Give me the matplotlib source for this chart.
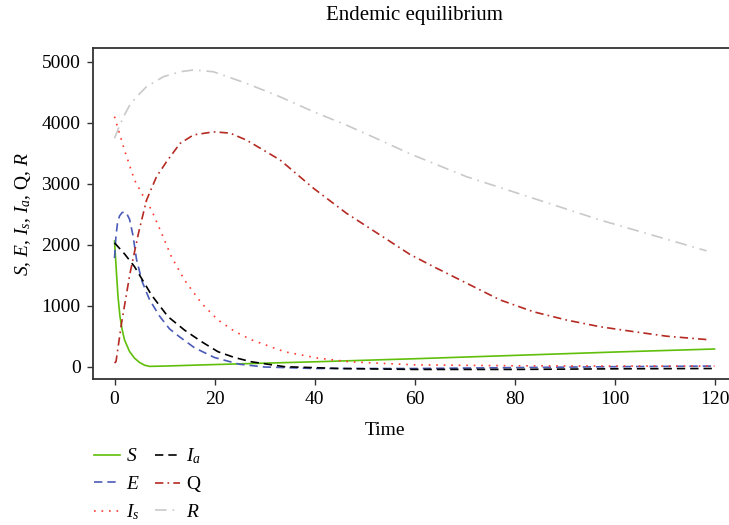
import matplotlib
matplotlib.use("Agg")
import matplotlib.pyplot as plt

plt.rcParams['font.family'] = ['Liberation Serif', 'DejaVu Serif']
plt.rcParams['mathtext.fontset'] = 'custom'
plt.rcParams['mathtext.rm'] = 'Liberation Serif'
plt.rcParams['mathtext.it'] = 'Liberation Serif:italic'

# values
t_S = [0, 0.2, 0.4, 0.7, 1.1, 1.5, 2, 3, 4, 5, 6, 7, 10, 20, 40, 60, 80, 100, 120]
S = [2060, 1800, 1530, 1150, 820, 620, 440, 250, 140, 70, 25, 5, 10, 35, 80, 130, 185, 240, 290]

t_E = [0, 0.3, 0.6, 1, 1.5, 2, 2.5, 3, 3.7, 4.4, 5.5, 7, 9, 11, 13, 16, 20, 25, 30, 40, 60, 80, 100, 120]
E = [1780, 2150, 2350, 2470, 2525, 2540, 2500, 2420, 2150, 1760, 1400, 1100, 830, 620, 490, 310, 150, 40, -5, -30, -30, -15, 0, 10]

t_Is = [0, 2, 4, 6, 7.4, 9.4, 11.4, 14, 17.4, 20.7, 24, 27.4, 34, 40.7, 47, 60, 80, 100, 120]
Is = [4100, 3550, 3060, 2760, 2570, 2190, 1800, 1420, 1040, 765, 580, 440, 245, 140, 80, 30, 15, 10, 10]

t_Ia = [0, 2, 4, 7.4, 10.7, 14, 17.4, 20.7, 24, 27.4, 34, 45, 60, 80, 100, 120]
Ia = [2030, 1850, 1640, 1175, 820, 600, 410, 245, 150, 80, 0, -30, -45, -45, -35, -30]

t_Q = [0, 0.3, 1.4, 3.1, 4.8, 6.4, 8.4, 10.4, 13.1, 15.8, 19.8, 23.1, 26.4, 33.1, 39.8, 46.4, 53.1, 59.1, 63.8, 70.4, 77.1, 83.8, 90.4, 97.1, 103.8, 110.4, 119.1]
Q = [60, 82, 710, 1530, 2190, 2730, 3115, 3360, 3660, 3800, 3850, 3830, 3715, 3390, 2925, 2515, 2160, 1840, 1640, 1370, 1095, 900, 765, 655, 575, 500, 440]

t_R = [0, 1, 1.8, 3, 4.4, 6.4, 9.8, 13.1, 15.8, 19.8, 26.4, 33.1, 39.8, 46.4, 53.1, 59.1, 70.4, 83.8, 97.1, 110.4, 118.4]
R = [3745, 3950, 4100, 4280, 4425, 4590, 4755, 4835, 4865, 4835, 4645, 4425, 4180, 3960, 3715, 3490, 3115, 2760, 2405, 2090, 1900]

fig = plt.figure(figsize=(7.29, 5.25), dpi=100)
ax = fig.add_axes([93 / 729, 1 - 379 / 525, 1 - 93 / 729, (379 - 48) / 525])

ax.plot(t_S, S, color='#5fbf0a', lw=1.2, label='$S$')
ax.plot(t_E, E, color='#4a5bb8', lw=1.2, dashes=(5, 3), label='$E$')
ax.plot(t_Is, Is, color='#ff3b30', lw=1.2, dashes=(1, 3.5), label='$I_s$')
ax.plot(t_Ia, Ia, color='black', lw=1.2, dashes=(5, 3), label='$I_a$')
ax.plot(t_Q, Q, color='#b52a22', lw=1.2, dashes=(5, 2.5, 1, 2.5), label='Q')
ax.plot(t_R, R, color='#c9c9c9', lw=1.2, dashes=(7, 3.5, 1, 3.5), label='$R$')

ax.set_xlim(-4.3, 122.9)
ax.set_ylim(-202, 5225)
ax.set_xticks([0, 20, 40, 60, 80, 100, 120])
ax.set_yticks([0, 1000, 2000, 3000, 4000, 5000])
ax.tick_params(direction='out', length=4, width=1, colors='#333333', labelcolor='black', labelsize=14, pad=5)
for side in ['left', 'bottom', 'top']:
    ax.spines[side].set_color('#333333')
    ax.spines[side].set_linewidth(1.3)
ax.spines['right'].set_visible(False)

ax.set_xlabel('Time', fontsize=14)
ax.xaxis.set_label_coords((385 - 93) / (729 - 93), -0.13)
ax.set_ylabel('$S$, $E$, $I_s$, $I_a$, Q, $R$', fontsize=14, labelpad=6)
ax.set_title('Endemic equilibrium', fontsize=15, pad=20, x=0.505)

ax.legend(loc='upper left', bbox_to_anchor=(-0.01, -0.18), ncol=2, frameon=False,
          fontsize=14, handlelength=1.3, handletextpad=0.3, columnspacing=0.8,
          labelspacing=0.5, borderaxespad=0)

plt.savefig('out.png', dpi=100)
